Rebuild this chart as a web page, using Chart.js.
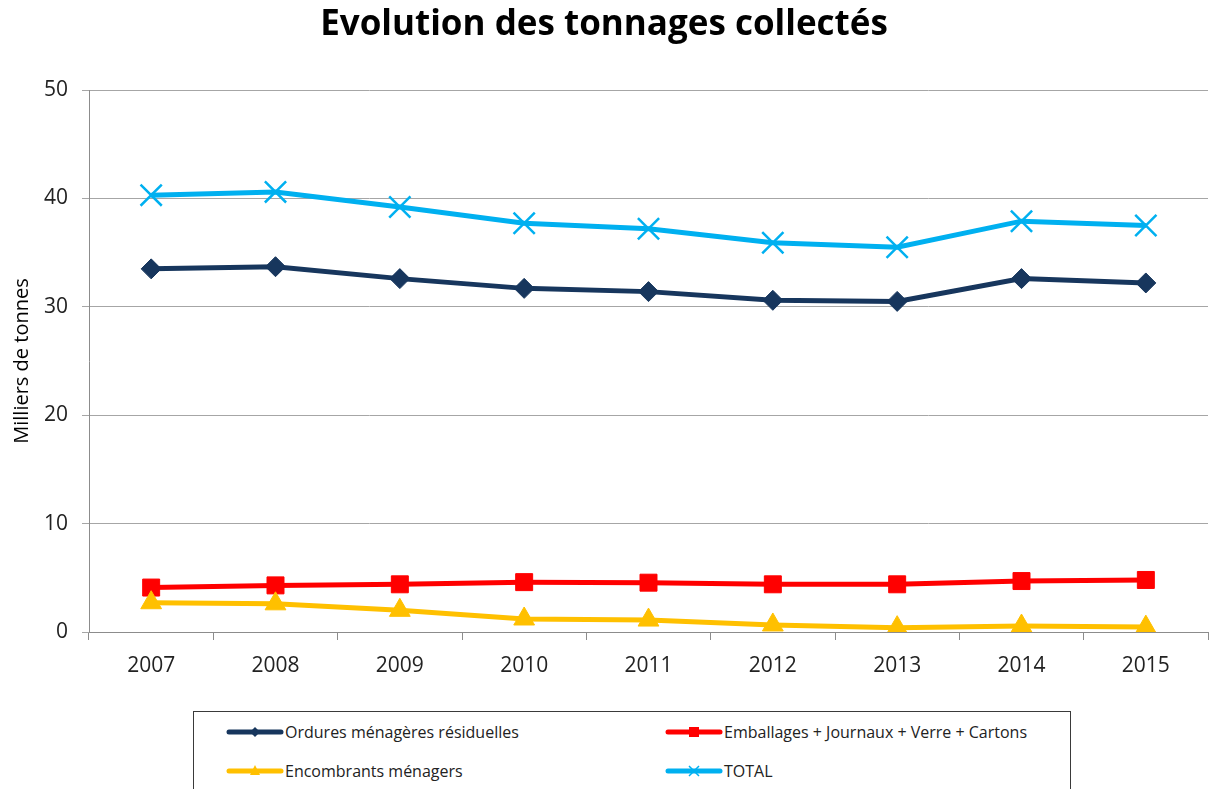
<!DOCTYPE html>
<html lang="fr">
<head>
<meta charset="utf-8">
<title>Evolution des tonnages collectés</title>
<script src="https://cdn.jsdelivr.net/npm/chart.js@4.4.1/dist/chart.umd.min.js"></script>
<style>
  html, body { margin: 0; padding: 0; background: #fff; }
  #wrap { position: relative; width: 1209px; height: 789px; overflow: hidden; }
  #chart { display: block; }
  #legend {
    position: absolute; left: 193px; top: 711px; width: 876px; height: 100px;
    border: 1px solid #3a3a3a; background: #fff;
    font-family: "Open Sans", sans-serif; font-size: 16px; color: #222;
  }
  .item { position: absolute; display: flex; align-items: center; }
  .item svg { margin-right: 1px; }
</style>
</head>
<body>
<div id="wrap">
  <canvas id="chart" width="1209" height="789"></canvas>
  <div id="legend"></div>
</div>
<script>
const years = ["2007", "2008", "2009", "2010", "2011", "2012", "2013", "2014", "2015"];
const ordures = [33.5, 33.7, 32.6, 31.7, 31.4, 30.6, 30.5, 32.6, 32.2];
const emballages = [4.1, 4.3, 4.4, 4.6, 4.55, 4.4, 4.4, 4.7, 4.8];
const encombrants = [2.7, 2.6, 2.0, 1.2, 1.1, 0.65, 0.4, 0.55, 0.45];
const total = [40.3, 40.6, 39.2, 37.7, 37.2, 35.9, 35.5, 37.9, 37.5];

const seriesNames = [
  "Ordures ménagères résiduelles",
  "Emballages + Journaux + Verre + Cartons",
  "Encombrants ménagers",
  "TOTAL",
];
const seriesColors = ["#17365d", "#ff0000", "#ffc000", "#00b0f0"];

const FONT = "'Open Sans', sans-serif";

function makeDataset(i, data, style, radius, extra) {
  return Object.assign({
    label: seriesNames[i],
    data: data,
    borderColor: seriesColors[i],
    backgroundColor: seriesColors[i],
    borderWidth: 5,
    pointStyle: style,
    pointRadius: radius,
    pointHoverRadius: radius,
    pointBackgroundColor: seriesColors[i],
    pointBorderColor: seriesColors[i],
    pointBorderWidth: 1,
    tension: 0,
  }, extra || {});
}

const ctx = document.getElementById("chart").getContext("2d");
new Chart(ctx, {
  type: "line",
  data: {
    labels: years,
    datasets: [
      makeDataset(0, ordures, "rectRot", 10, { order: 0 }),
      makeDataset(1, emballages, "rect", 12, { order: 1 }),
      makeDataset(2, encombrants, "triangle", 12, { order: 0 }),
      makeDataset(3, total, "crossRot", 15, { order: 0, pointBorderWidth: 2.5 }),
    ],
  },
  options: {
    responsive: false,
    animation: false,
    layout: { autoPadding: false, padding: { left: 0, right: 1, top: 0, bottom: 97 } },
    plugins: {
      legend: { display: false },
      tooltip: { enabled: false },
      title: {
        display: true,
        text: "Evolution des tonnages collectés",
        color: "#000",
        font: { family: FONT, size: 35, weight: "bold" },
        padding: { top: 4, bottom: 44 },
      },
    },
    scales: {
      x: {
        type: "category",
        offset: true,
        afterFit: (s) => { s.height = 60; },
        grid: {
          offset: true,
          drawOnChartArea: false,
          drawTicks: true,
          tickLength: 8,
          color: "#8c8c8c",
        },
        border: { color: "#8c8c8c", width: 1 },
        ticks: { color: "#222", font: { family: FONT, size: 21 }, padding: 13 },
      },
      y: {
        min: 0,
        max: 50,
        afterFit: (s) => { s.width = 89; },
        grid: { color: "#a6a6a6", tickLength: 7, lineWidth: 1 },
        border: { color: "#8c8c8c", width: 1 },
        ticks: { stepSize: 10, color: "#222", font: { family: FONT, size: 21 }, padding: 14 },
        title: {
          display: true,
          text: "Milliers de tonnes",
          color: "#000",
          font: { family: FONT, size: 20 },
          padding: { top: 10, bottom: 0 },
        },
      },
    },
  },
});

// legend with a frame, two columns like the original
function markerSvg(style, color) {
  let mark = "";
  if (style === "rectRot") mark = `<polygon points="29,2 34,7 29,12 24,7" fill="${color}"/>`;
  if (style === "rect") mark = `<rect x="24" y="2" width="10" height="10" fill="${color}"/>`;
  if (style === "triangle") mark = `<polygon points="29,1 34,11 24,11" fill="${color}"/>`;
  if (style === "crossRot") mark = `<path d="M24,2 L34,12 M34,2 L24,12" stroke="${color}" stroke-width="1.5"/>`;
  return `<svg width="58" height="14"><line x1="3" y1="7" x2="55" y2="7" stroke="${color}" stroke-width="5" stroke-linecap="round"/>${mark}</svg>`;
}

const legendStyles = ["rectRot", "rect", "triangle", "crossRot"];
const legendPos = [[32, 9], [471, 9], [32, 48], [471, 48]];
const legendNode = document.getElementById("legend");
seriesNames.forEach((name, i) => {
  const div = document.createElement("div");
  div.className = "item";
  div.style.left = legendPos[i][0] + "px";
  div.style.top = legendPos[i][1] + "px";
  div.innerHTML = markerSvg(legendStyles[i], seriesColors[i]) + `<span>${name}</span>`;
  legendNode.appendChild(div);
});
</script>
</body>
</html>
